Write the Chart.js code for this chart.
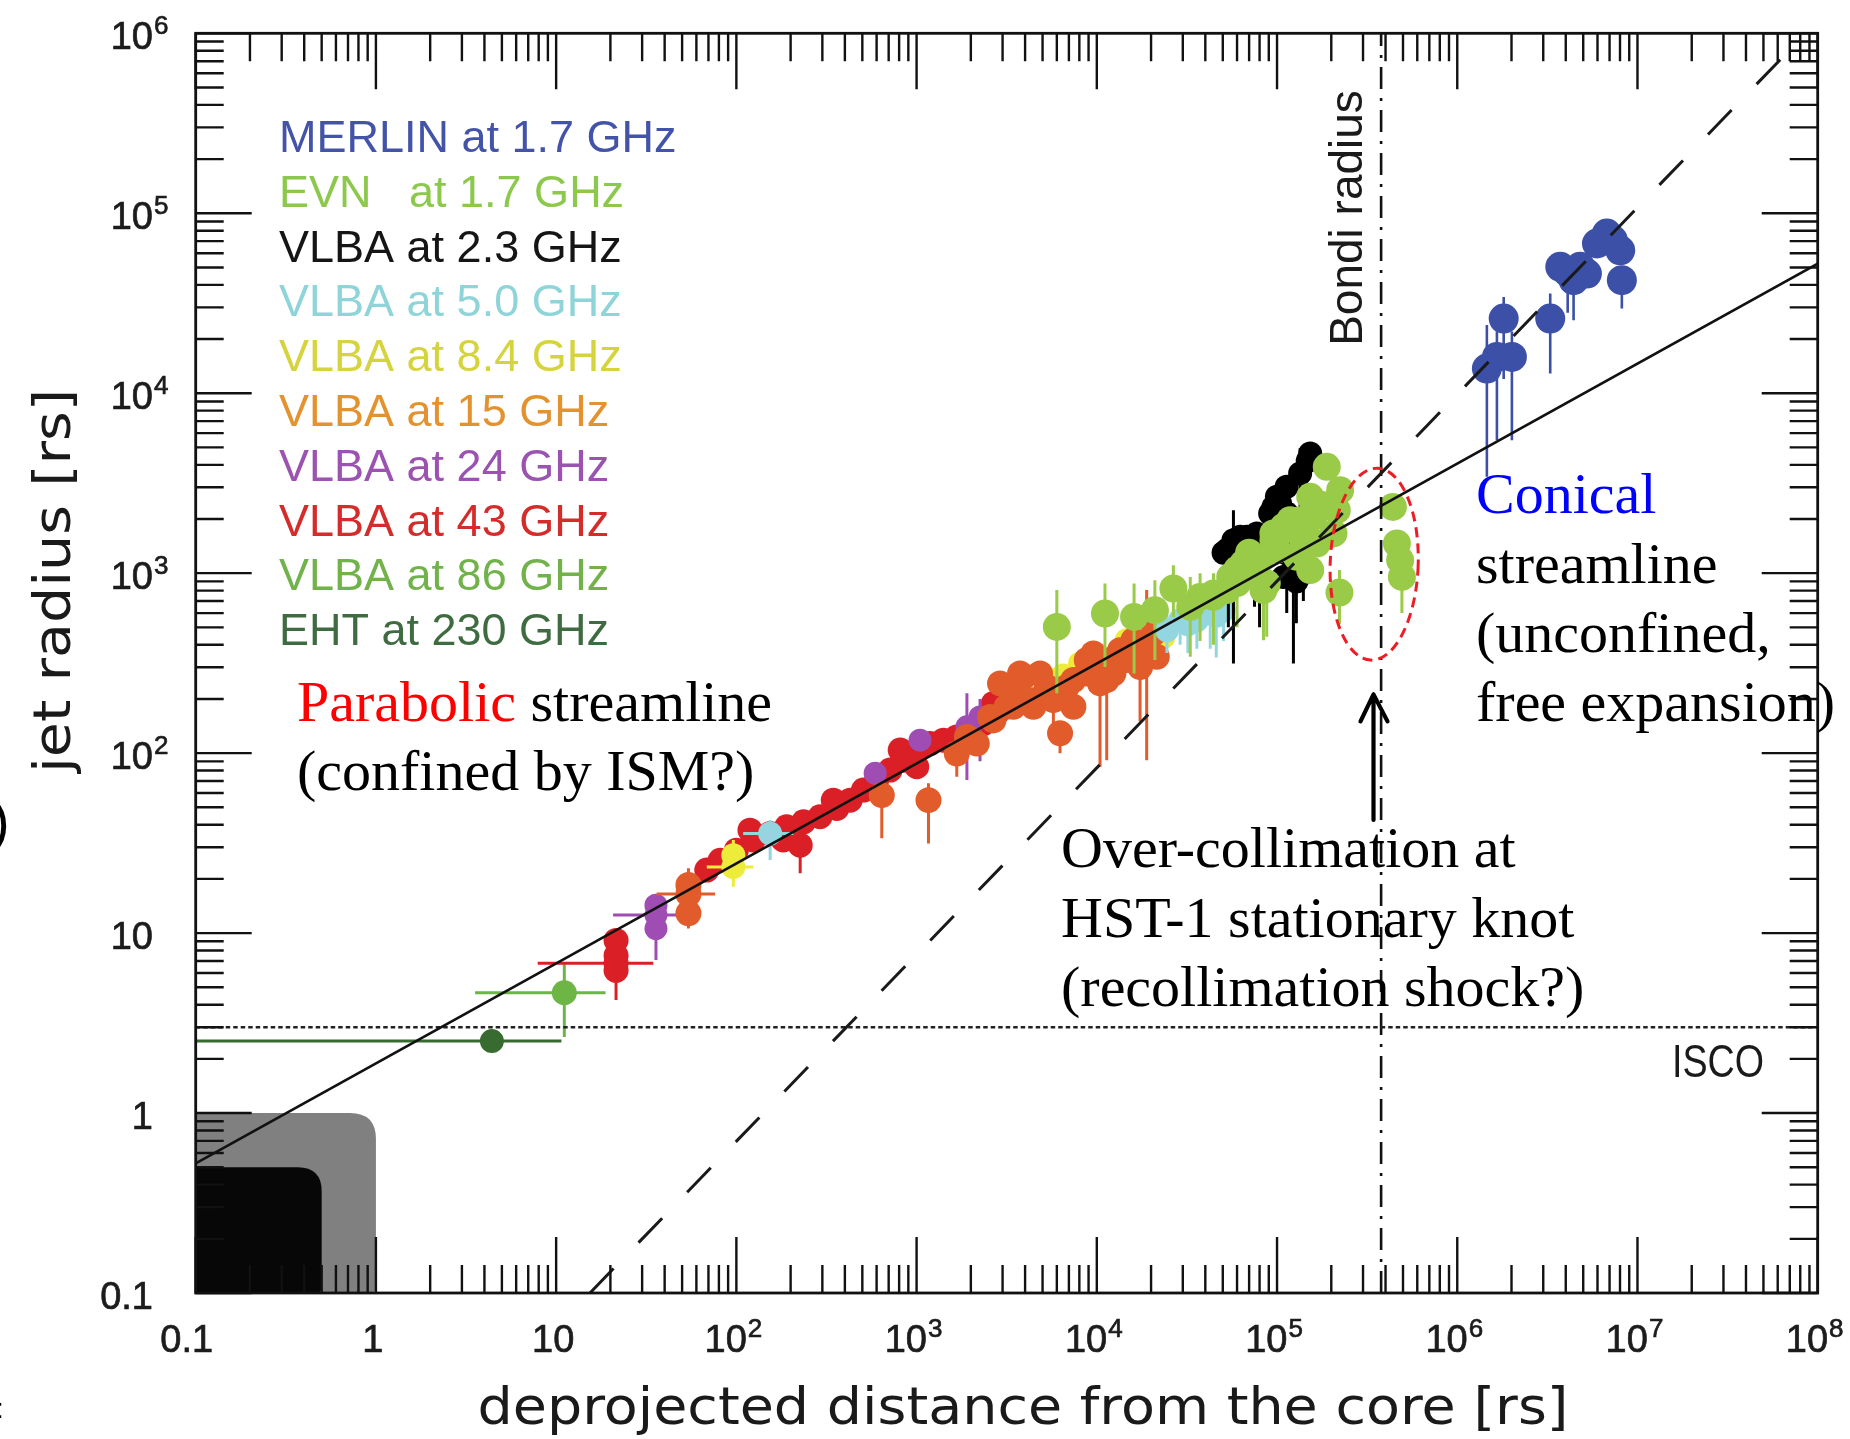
<!DOCTYPE html>
<html>
<head>
<meta charset="utf-8">
<title>Jet radius vs deprojected distance</title>
<script src="https://cdn.jsdelivr.net/npm/chart.js@4.4.1/dist/chart.umd.min.js"></script>
<style>
html,body{margin:0;padding:0;background:#ffffff;}
canvas{display:block;}
</style>
</head>
<body>
<canvas id="c" width="1850" height="1439"></canvas>
<script>
// ===================== DATA =====================
const seriesNames = ['MERLIN at 1.7 GHz','EVN   at 1.7 GHz','VLBA at 2.3 GHz','VLBA at 5.0 GHz','VLBA at 8.4 GHz',
                     'VLBA at 15 GHz','VLBA at 24 GHz','VLBA at 43 GHz','VLBA at 86 GHz','EHT at 230 GHz'];

// MERLIN 1.7 GHz
const merlinX   = [1.46e6, 1.81e6, 2.01e6, 1.66e6, 3.28e6, 3.73e6, 4.42e6, 5.24e6, 6.76e6, 8.02e6, 8.19e6, 5.96e6, 4.81e6, 4.1e6, 7.3e6];
const merlinY   = [13700, 26000, 15900, 15900, 26000, 50400, 42500, 46200, 77100, 62200, 42500, 67900, 50400, 47000, 71000];
const merlinYLo = [3430, 12000, 5480, 5480, 12850, null, 25400, null, null, null, 29600, null, null, 28000, null];
const merlinYHi = [23900, 34300, 22000, 22000, 35800, null, 55000, null, null, null, 50000, null, null, null, null];

// EVN 1.7 GHz
const evnX   = [6000, 11100, 16100, 21000, 26600, 33000, 37400, 44400, 52600, 59800, 68000, 77200, 84100, 95500,
                108600, 128800, 152800, 222000, 159200, 118300, 205600, 188800, 223900, 214600, 152800, 134300,
                108600, 95500, 166300, 80500, 65100, 87700, 55000, 44400, 439500, 462600, 482000, 493000,
                70000, 100000, 140000, 175000, 60000];
const evnY   = [503, 597, 571, 623, 822, 650, 738, 738, 805, 1040, 996, 1181, 805, 1663,
                1808, 1233, 1040, 780, 2057, 1968, 1663, 3899, 2891, 2239, 2655, 1968,
                1735, 1524, 1462, 1181, 1132, 877, 953, 771, 2333, 1462, 1181, 953,
                1300, 1350, 1500, 2400, 880];
const evnYLo = [215, 301, 277, 329, 571, 343, 420, 400, null, null, null, null, 424, null,
                null, null, null, 520, null, null, null, null, null, null, null, null,
                null, null, null, null, null, 443, null, null, null, null, null, 600,
                null, null, null, null, 500];
const evnYHi = [805, 877, 877, 914, 1107, 953, 1000, 1000, null, null, null, null, 1000, null,
                null, null, null, 1040, null, null, null, null, null, null, null, null,
                null, null, null, null, null, 1000, null, null, null, null, null, 1100,
                null, null, null, null, null];

// VLBA 2.3 GHz
const vlba2X   = [57300, 68000, 99800, 95500, 134300, 152800, 108600, 123300, 50500, 80000, 128000, 140000,
                  52600, 62400, 77200, 91600, 104000, 113200, 53700, 113000, 113000, 148000, 75000];
const vlba2Y   = [1524, 1592, 2655, 2333, 3581, 4621, 953, 1040, 1300, 1250, 900, 1000,
                  1343, 1592, 1663, 2148, 2438, 1285, 805, 3020, 2150, 4200, 1450];
const vlba2YLo = [315, null, null, null, 2000, null, null, 315, null, 500, 527, 700,
                  null, null, null, null, null, 600, 500, null, null, null, 650];
const vlba2YHi = [2239, null, null, null, 4950, null, null, 1136, null, 1600, 1100, 1200,
                  null, null, null, null, null, null, null, null, null, null, null];

// VLBA 5.0 GHz
const vlba5X   = [154, 24500, 29000, 35900, 42600, 50500, 32000, 46000];
const vlba5Y   = [35.8, 482, 548, 548, 597, 623, 520, 580];
const vlba5YLo = [25.5, 360, 400, 380, 380, 420, 360, 340];
const vlba5YHi = [42.5, 620, 680, 700, 760, 760, 640, 720];
const vlba5XLo = [109, null, null, null, null, null, null, null];
const vlba5XHi = [207, null, null, null, null, null, null, null];

// VLBA 8.4 GHz
const vlba8X   = [96.2, 96.2, 5060, 8070, 14650, 23400, 5510, 6500];
const vlba8Y   = [27.1, 23.3, 249, 315, 424, 442, 255, 270];
const vlba8YLo = [null, 18.1, null, null, null, null, null, null];
const vlba8YHi = [32.9, null, null, null, null, null, null, null];
const vlba8XLo = [null, 68.5, null, null, null, null, null, null];
const vlba8XHi = [null, 124, null, null, null, null, null, null];

// VLBA 15 GHz
const vlba15X   = [54.2, 54.2, 54.2, 641, 1164, 1671, 2158, 2668, 3444, 3750, 4446, 6252, 8793, 10420,
                   11850, 5741, 7413, 3917, 5284, 7413, 9572, 11350, 13460, 15960, 18910, 20600, 3162,
                   3444, 4446, 5741, 6808, 8793, 10420, 12360, 14650, 17380, 21520, 4842, 3750, 2904,
                   9572, 1902, 2559];
const vlba15Y   = [18.5, 16.5, 12.9, 58.4, 54.8, 99.5, 113, 152, 181, 265, 181, 129, 329, 244,
                   329, 215, 255, 265, 233, 181, 343, 255, 373, 424, 390, 462, 181,
                   215, 197, 197, 233, 277, 329, 277, 329, 301, 343, 277, 277, 244,
                   358, 123, 159];
const vlba15YLo = [null, null, 10.6, 33.6, 31.5, 73.8, null, null, null, null, null, 100, null, 84,
                   null, null, null, null, null, null, null, 91.4, null, null, 91.4, null, null,
                   null, null, 120, null, null, null, null, null, 150, null, null, null, null,
                   null, null, null];
const vlba15YHi = [22.9, null, null, 68, 68, null, null, null, null, null, null, 150, null, 300,
                   null, null, null, null, null, null, null, 300, null, null, 805, null, null,
                   null, null, null, null, null, null, null, null, null, null, null, null, null,
                   null, null, null];
const vlba15XLo = [null, 36.1];
const vlba15XHi = [null, 76.2];

// VLBA 24 GHz
const vlba24X   = [35.8, 35.8, 35.8, 589, 1045, 1902, 2249];
const vlba24Y   = [14.3, 12.6, 10.6, 77.4, 118, 140, 159];
const vlba24YLo = [null, null, 7.08, null, null, 70.8, 90];
const vlba24YHi = [null, null, null, null, null, 215, 200];
const vlba24XLo = [null, 20.7];
const vlba24XHi = [null, 48.8];

// VLBA 43 GHz
const vlba43X   = [21.5, 21.5, 21.5, 21.5, 68.5, 81.3, 100, 124, 154, 190, 236, 291, 361, 428, 507, 601,
                   713, 845, 1002, 1189, 1409, 1671, 1982, 2350, 2786, 3304, 2904, 3597, 119, 345, 811,
                   1002, 2668, 182, 226];
const vlba43Y   = [9.1, 7.5, 6.8, 6.2, 22.4, 25.4, 28.9, 32.9, 35.8, 39.0, 41.5, 44.3, 49.3, 54.8, 62.3, 70.8,
                   80.5, 91.4, 104, 113, 118, 123, 134, 146, 166, 189, 190, 197, 37.3, 54.8, 104,
                   84, 189, 32.9, 30.8];
const vlba43YLo = [null, null, null, 4.25, null, null, null, null, null, null, null, null, null, null, null, null,
                   null, null, null, null, null, null, null, null, null, null, null, null, null, null, null,
                   null, null, null, 21.5];
const vlba43XLo = [null, null, 7.9, null];
const vlba43XHi = [null, null, 34.6, null];

// VLBA 86 GHz
const vlba86X = [11.1], vlba86Y = [4.66];
const vlba86YLo = [2.65], vlba86YHi = [6.79], vlba86XLo = [3.55], vlba86XHi = [18.8];

// EHT 230 GHz
const ehtX = [4.4], ehtY = [2.51];
const ehtXLo = [0.1], ehtXHi = [10.7];

// Model / reference lines
const parabolicX = [0.1, 1e8],   parabolicY = [0.525, 5.25e4];
const conicalX   = [15.4, 6.2e7], conicalY  = [0.1, 7.14e5];
const iscoX      = [0.1, 1e8],   iscoY      = [3, 3];
const bondiX     = [3.78e5, 3.78e5], bondiY = [0.1, 1e6];

// Black hole shading (grey: r<=1, black: r<=0.5)
const horizonOuter = 1.0, horizonInner = 0.5;

// Tick labels
const xTickValues = [0.1, 1, 10, 1e2, 1e3, 1e4, 1e5, 1e6, 1e7, 1e8];
const xTickBase   = ['0.1','1','10','10','10','10','10','10','10','10'];
const xTickExp    = ['','','','2','3','4','5','6','7','8'];
const yTickValues = [0.1, 1, 10, 1e2, 1e3, 1e4, 1e5, 1e6];
const yTickBase   = ['0.1','1','10','10','10','10','10','10'];
const yTickExp    = ['','','','2','3','4','5','6'];

// ===================== STYLE =====================
const legendColors = ['#4353a8','#8cc84b','#151515','#8ed4d8','#d6d43c','#e4922e','#9b52b0','#d42b2b','#72b24a','#3f6b41'];
const markerColors = ['#3b50a6','#9acb48','#000000','#93d6df','#eeec3a','#e15c2a','#9f4db3','#db1f26','#6db544','#386b30'];
const markerRadius = [15, 14, 12, 12, 12, 13, 11.5, 12.5, 12.5, 12];
const drawOrder    = [1, 2, 3, 4, 6, 5, 7, 8, 9, 10];

const seriesData = [
  {x: merlinX, y: merlinY, yLo: merlinYLo, yHi: merlinYHi},
  {x: evnX, y: evnY, yLo: evnYLo, yHi: evnYHi},
  {x: vlba2X, y: vlba2Y, yLo: vlba2YLo, yHi: vlba2YHi},
  {x: vlba5X, y: vlba5Y, yLo: vlba5YLo, yHi: vlba5YHi, xLo: vlba5XLo, xHi: vlba5XHi},
  {x: vlba8X, y: vlba8Y, yLo: vlba8YLo, yHi: vlba8YHi, xLo: vlba8XLo, xHi: vlba8XHi},
  {x: vlba15X, y: vlba15Y, yLo: vlba15YLo, yHi: vlba15YHi, xLo: vlba15XLo, xHi: vlba15XHi},
  {x: vlba24X, y: vlba24Y, yLo: vlba24YLo, yHi: vlba24YHi, xLo: vlba24XLo, xHi: vlba24XHi},
  {x: vlba43X, y: vlba43Y, yLo: vlba43YLo, xLo: vlba43XLo, xHi: vlba43XHi},
  {x: vlba86X, y: vlba86Y, yLo: vlba86YLo, yHi: vlba86YHi, xLo: vlba86XLo, xHi: vlba86XHi},
  {x: ehtX, y: ehtY, xLo: ehtXLo, xHi: ehtXHi}
];

const pts = (xs, ys) => xs.map((x, i) => ({x: x, y: ys[i]}));

const datasets = [];
// reference lines (drawn on top of the data)
datasets.push({type:'line', label:'parabolic', data: pts(parabolicX, parabolicY), borderColor:'#111', borderWidth:2.6,
  pointRadius:0, showLine:true, fill:false, tension:0, order:0});
datasets.push({type:'line', label:'conical', data: pts(conicalX, conicalY), borderColor:'#1a1a1a', borderWidth:3,
  borderDash:[34,36], pointRadius:0, showLine:true, fill:false, tension:0, order:0});
datasets.push({type:'line', label:'ISCO', data: pts(iscoX, iscoY), borderColor:'#222', borderWidth:2.6,
  borderDash:[4.5,3], pointRadius:0, showLine:true, fill:false, tension:0, order:0});
datasets.push({type:'line', label:'Bondi', data: pts(bondiX, bondiY), borderColor:'#111', borderWidth:2.6,
  borderDash:[22,9,3,9], pointRadius:0, showLine:true, fill:false, tension:0, order:0});

seriesData.forEach((s, i) => {
  datasets.push({
    type:'scatter', label: seriesNames[i], data: pts(s.x, s.y),
    backgroundColor: markerColors[i], borderColor: markerColors[i], borderWidth:0,
    pointRadius: markerRadius[i], pointHoverRadius: markerRadius[i], pointStyle:'circle',
    order: drawOrder[i],
    errors: {yLo: s.yLo, yHi: s.yHi, xLo: s.xLo, xHi: s.xHi},
    errWidth: i === 0 ? 2.6 : 3
  });
});

// ===================== PLUGINS =====================
const errorBarPlugin = {
  id: 'errorBars',
  beforeDatasetDraw(chart, args) {
    const ds = chart.data.datasets[args.index];
    if (!ds.errors) return;
    const e = ds.errors, xs = chart.scales.x, ys = chart.scales.y, c = chart.ctx, a = chart.chartArea;
    c.save();
    c.beginPath(); c.rect(a.left, a.top, a.right - a.left, a.bottom - a.top); c.clip();
    c.strokeStyle = ds.backgroundColor; c.lineWidth = ds.errWidth; c.lineCap = 'butt';
    ds.data.forEach((p, i) => {
      const X = xs.getPixelForValue(p.x), Y = ys.getPixelForValue(p.y);
      const yl = e.yLo && e.yLo[i] != null ? e.yLo[i] : null;
      const yh = e.yHi && e.yHi[i] != null ? e.yHi[i] : null;
      const xl = e.xLo && e.xLo[i] != null ? e.xLo[i] : null;
      const xh = e.xHi && e.xHi[i] != null ? e.xHi[i] : null;
      c.beginPath();
      if (yl !== null || yh !== null) {
        c.moveTo(X, ys.getPixelForValue(yl !== null ? yl : p.y));
        c.lineTo(X, ys.getPixelForValue(yh !== null ? yh : p.y));
      }
      if (xl !== null || xh !== null) {
        c.moveTo(xs.getPixelForValue(xl !== null ? xl : p.x), Y);
        c.lineTo(xs.getPixelForValue(xh !== null ? xh : p.x), Y);
      }
      c.stroke();
    });
    c.restore();
  }
};

function roundRectPath(c, x, y, w, h, r) {
  c.beginPath();
  c.moveTo(x, y + 4);
  c.quadraticCurveTo(x, y, x + 4, y);
  c.lineTo(x + w - r, y);
  c.quadraticCurveTo(x + w, y, x + w, y + r);
  c.lineTo(x + w, y + h - 6);
  c.quadraticCurveTo(x + w, y + h, x + w - 6, y + h);
  c.lineTo(x, y + h);
  c.closePath();
}

const backgroundPlugin = {
  id: 'bhShade',
  beforeDatasetsDraw(chart) {
    const c = chart.ctx, xs = chart.scales.x, ys = chart.scales.y, a = chart.chartArea;
    c.save();
    let x1 = xs.getPixelForValue(horizonOuter), y1 = ys.getPixelForValue(horizonOuter);
    c.fillStyle = '#808080';
    roundRectPath(c, a.left, y1, x1 - a.left, a.bottom - y1, 26); c.fill();
    x1 = xs.getPixelForValue(horizonInner); y1 = ys.getPixelForValue(horizonInner);
    c.fillStyle = '#070707';
    roundRectPath(c, a.left, y1, x1 - a.left, a.bottom - y1, 24); c.fill();
    c.restore();
  }
};

const TICKFONT = '38px "Liberation Sans", Arial, sans-serif';
const SUPFONT = '26px "Liberation Sans", Arial, sans-serif';
function drawSupLabel(c, base, exp, x, baseline, align) {
  c.font = TICKFONT;
  const wb = c.measureText(base).width;
  c.font = SUPFONT;
  const we = exp ? c.measureText(exp).width + 1 : 0;
  let start;
  if (align === 'center') start = x - (wb + we) / 2;
  else start = x - wb; // right-aligned base
  c.textAlign = 'left'; c.textBaseline = 'alphabetic';
  c.lineWidth = 0.7;
  c.font = TICKFONT;
  c.fillText(base, start, baseline); c.strokeText(base, start, baseline);
  if (exp) {
    c.font = SUPFONT;
    c.fillText(exp, start + wb + 1, baseline - 15); c.strokeText(exp, start + wb + 1, baseline - 15);
  }
}

function stretchedText(c, text, font, cx, baseline, targetW) {
  c.font = font;
  const w = c.measureText(text).width;
  const sx = targetW / w;
  c.save();
  c.translate(cx, baseline);
  c.scale(sx, 1);
  c.textAlign = 'center'; c.textBaseline = 'alphabetic';
  c.fillText(text, 0, 0);
  c.restore();
}

const framePlugin = {
  id: 'frameAndText',
  afterDraw(chart) {
    const c = chart.ctx, xs = chart.scales.x, ys = chart.scales.y, a = chart.chartArea;
    c.save();
    // ----- ticks -----
    c.strokeStyle = '#111'; c.lineWidth = 2.4; c.lineCap = 'butt';
    const MAJ = 56, MIN = 28;
    c.beginPath();
    xTickValues.forEach((v, k) => {
      const p = xs.getPixelForValue(v);
      c.moveTo(p, a.bottom); c.lineTo(p, a.bottom - MAJ);
      c.moveTo(p, a.top); c.lineTo(p, a.top + MAJ);
      if (k < xTickValues.length - 1) {
        for (let m = 2; m <= 9; m++) {
          const q = xs.getPixelForValue(v * m);
          c.moveTo(q, a.bottom); c.lineTo(q, a.bottom - MIN);
          c.moveTo(q, a.top); c.lineTo(q, a.top + MIN);
        }
      }
    });
    yTickValues.forEach((v, k) => {
      const p = ys.getPixelForValue(v);
      c.moveTo(a.left, p); c.lineTo(a.left + MAJ, p);
      c.moveTo(a.right, p); c.lineTo(a.right - MAJ, p);
      if (k < yTickValues.length - 1) {
        for (let m = 2; m <= 9; m++) {
          const q = ys.getPixelForValue(v * m);
          c.moveTo(a.left, q); c.lineTo(a.left + MIN, q);
          c.moveTo(a.right, q); c.lineTo(a.right - MIN, q);
        }
      }
    });
    c.stroke();
    // frame
    c.lineWidth = 2.8; c.strokeStyle = '#111';
    c.strokeRect(a.left, a.top, a.right - a.left, a.bottom - a.top);

    // ----- tick labels -----
    c.fillStyle = '#1c1c1c'; c.strokeStyle = '#1c1c1c';
    xTickValues.forEach((v, k) => {
      const p = xs.getPixelForValue(v);
      const off = k === 0 ? -9 : -3;
      drawSupLabel(c, xTickBase[k], xTickExp[k], p + off, 1352, 'center');
    });
    yTickValues.forEach((v, k) => {
      const p = ys.getPixelForValue(v);
      drawSupLabel(c, yTickBase[k], yTickExp[k], 153, p + 16, 'right');
    });

    // ----- axis titles -----
    c.fillStyle = '#1a1a1a'; c.strokeStyle = '#1a1a1a'; c.lineWidth = 0.8;
    stretchedText(c, 'deprojected distance from the core [rs]', '51px "DejaVu Sans", sans-serif', 1023, 1424, 1091);
    c.save();
    c.translate(70, 581); c.rotate(-Math.PI / 2);
    stretchedText(c, 'jet radius [rs]', '51px "DejaVu Sans", sans-serif', 0, 0, 384);
    c.restore();

    // ----- legend (coloured text) -----
    c.font = '45px "Liberation Sans", Arial, sans-serif';
    c.textAlign = 'left'; c.textBaseline = 'alphabetic';
    seriesNames.forEach((n, i) => {
      c.fillStyle = legendColors[i];
      c.fillText(n, 279, 152 + i * 54.8);
    });

    // ----- Bondi radius label -----
    c.save();
    c.fillStyle = '#1a1a1a';
    c.translate(1362, 218); c.rotate(-Math.PI / 2);
    c.font = '46px "Liberation Sans", Arial, sans-serif';
    c.textAlign = 'center'; c.textBaseline = 'alphabetic';
    c.fillText('Bondi radius', 0, 0);
    c.restore();

    // ----- ISCO label -----
    c.save();
    c.fillStyle = '#1a1a1a';
    c.font = '46px "Liberation Sans", Arial, sans-serif';
    const iw = c.measureText('ISCO').width;
    c.translate(1718, 1077); c.scale(92 / iw, 1);
    c.textAlign = 'center'; c.textBaseline = 'alphabetic';
    c.fillText('ISCO', 0, 0);
    c.restore();

    // ----- serif annotations -----
    const serif = '58px "Liberation Serif", "Times New Roman", serif';
    c.font = serif; c.textAlign = 'left'; c.textBaseline = 'alphabetic';
    c.fillStyle = '#ff0000'; c.fillText('Parabolic', 297, 721);
    const pw = c.measureText('Parabolic').width;
    c.fillStyle = '#000'; c.fillText(' streamline', 297 + pw, 721);
    c.fillText('(confined by ISM?)', 297, 790);
    c.fillStyle = '#0000ff'; c.fillText('Conical', 1476, 513);
    c.fillStyle = '#000';
    c.fillText('streamline', 1476, 583);
    c.fillText('(unconfined,', 1476, 652);
    c.fillText('free expansion)', 1476, 721);
    c.fillText('Over-collimation at', 1061, 867);
    c.fillText('HST-1 stationary knot', 1061, 937);
    c.fillText('(recollimation shock?)', 1061, 1006);

    // ----- arrow -----
    const ax = xs.getPixelForValue(3.43e5);
    const aTop = ys.getPixelForValue(212), aBot = ys.getPixelForValue(42.5);
    c.strokeStyle = '#000'; c.lineWidth = 4.2; c.lineCap = 'round'; c.lineJoin = 'round';
    c.beginPath();
    c.moveTo(ax, aBot); c.lineTo(ax, aTop);
    c.moveTo(ax - 13, aTop + 27); c.lineTo(ax, aTop); c.lineTo(ax + 14, aTop + 27);
    c.stroke();

    // ----- red dashed ellipse -----
    const ex = xs.getPixelForValue(3.46e5), ey = ys.getPixelForValue(1122);
    c.strokeStyle = '#ee1c25'; c.lineWidth = 3; c.lineCap = 'butt';
    c.setLineDash([10, 6]);
    c.beginPath(); c.ellipse(ex, ey, 44, 96, 0.035, 0, Math.PI * 2); c.stroke();
    c.setLineDash([]);

    // ----- cropped fragments at the left edge of the original figure -----
    c.fillStyle = '#000';
    c.font = '56px "Liberation Sans", Arial, sans-serif';
    c.fillText(')', -9, 840);
    c.font = '28px "Liberation Sans", Arial, sans-serif';
    c.fillText(':', -4, 1418);
    c.restore();
  }
};

// ===================== CHART =====================
const chart = new Chart(document.getElementById('c'), {
  type: 'scatter',
  data: { datasets: datasets },
  options: {
    responsive: false,
    animation: false,
    devicePixelRatio: 1,
    layout: { padding: { left: 195.7, right: 32.3, top: 33.3, bottom: 146 } },
    scales: {
      x: { type: 'logarithmic', min: 0.1, max: 1e8, display: false },
      y: { type: 'logarithmic', min: 0.1, max: 1e6, display: false }
    },
    plugins: { legend: { display: false }, tooltip: { enabled: false } },
    events: []
  },
  plugins: [backgroundPlugin, errorBarPlugin, framePlugin]
});
</script>
</body>
</html>
